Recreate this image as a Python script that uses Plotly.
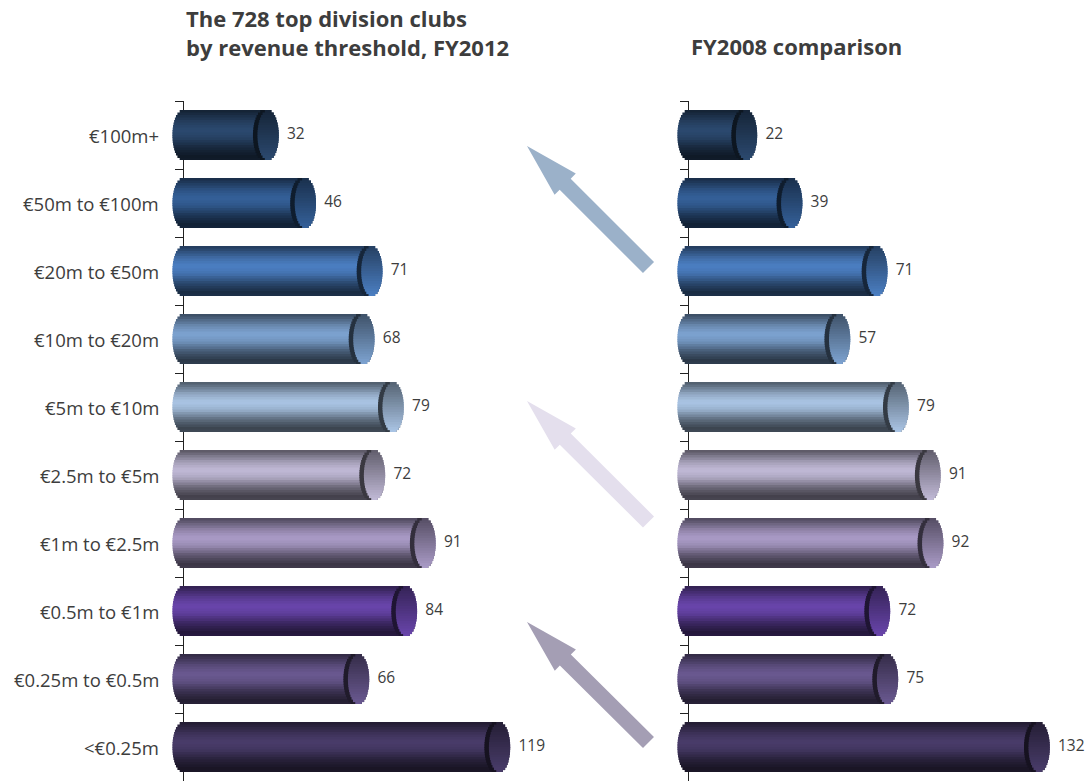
import numpy as np
import plotly.graph_objects as go

# data
categories = ["€100m+", "€50m to €100m", "€20m to €50m", "€10m to €20m", "€5m to €10m",
              "€2.5m to €5m", "€1m to €2.5m", "€0.5m to €1m", "€0.25m to €0.5m", "<€0.25m"]
clubs_fy2012 = [32, 46, 71, 68, 79, 72, 91, 84, 66, 119]
clubs_fy2008 = [22, 39, 71, 57, 79, 91, 92, 72, 75, 132]
bar_colors = ["#2c4a70", "#35619a", "#4c80c4", "#7ea4d2", "#abc6e6",
              "#c2bbd8", "#ab9cc8", "#6a46ad", "#6b5a92", "#4a3d6b"]
arrow_colors = ["#9bb1c9", "#e4dfed", "#a49eb4"]

W, H = 1088, 781
PX = 2.66            # pixels per club
X_MIN, X_MAX = -5, 150
PLOT_TOP = 101       # px from top where the bar area starts
N = 20               # stripes used to fake the cylinder shading
BAR_H = 0.735        # bar thickness in category units
DELTA = 4.0          # half-width of the end ellipse (x units)
RIM = 1.7
TXT = "#3d3d3d"


def shade(hexcol, f):
    c = np.array([int(hexcol[i:i + 2], 16) for i in (1, 3, 5)], dtype=float)
    c = np.clip(c * f, 0, 255).astype(int)
    return "#%02x%02x%02x" % tuple(c)


body_t = [0, 0.08, 0.25, 0.4, 0.55, 0.75, 0.92, 1]
body_f = [0.45, 0.58, 0.86, 1.0, 0.9, 0.55, 0.35, 0.38]

fig = go.Figure()


def add_cylinders(values, xa, ya):
    v = np.array(values, dtype=float)
    sw = BAR_H / N
    for layer in ("body", "rim", "face"):
        for k in range(N):
            t = (k + 0.5) / N
            s = np.sqrt(max(1 - (2 * t - 1) ** 2, 0))
            if layer == "body":
                base = -DELTA * s + 0 * v
                length = v + 2 * DELTA * s
                cols = [shade(c, np.interp(t, body_t, body_f)) for c in bar_colors]
            elif layer == "rim":
                base = v - DELTA * s - RIM
                length = 2 * DELTA * s + 0 * v
                cols = [shade(c, 0.3) for c in bar_colors]
            else:
                base = v - DELTA * s
                length = 2 * DELTA * s + 0 * v
                cols = [shade(c, 0.5 + 0.5 * t) for c in bar_colors]
            fig.add_trace(go.Bar(
                orientation="h", y=categories, x=length, base=base,
                offset=-BAR_H / 2 + k * sw, width=sw * (1.25 if k < N - 1 else 1),
                marker=dict(color=cols, line=dict(width=0)),
                xaxis=xa, yaxis=ya, hoverinfo="skip", showlegend=False))
    fig.add_trace(go.Scatter(
        x=v + DELTA + 3.1, y=categories, mode="text", text=[str(int(a)) for a in values],
        textposition="middle right", cliponaxis=False,
        textfont=dict(family="Open Sans", size=15.5, color=TXT),
        xaxis=xa, yaxis=ya, hoverinfo="skip", showlegend=False))


add_cylinders(clubs_fy2012, "x", "y")
add_cylinders(clubs_fy2008, "x2", "y2")

# category labels, right-aligned left of the first axis
for cat in categories:
    fig.add_annotation(text=cat, xref="paper", yref="y", x=161 / W, y=cat,
                       xanchor="right", yanchor="middle", showarrow=False,
                       font=dict(family="Open Sans", size=18.5, color=TXT))


def xdom(axis_px):
    return [(axis_px + X_MIN * PX) / W, min((axis_px + X_MAX * PX) / W, 1)]


yax = dict(type="category", categoryorder="array", categoryarray=categories,
           range=[9.5, -0.5], domain=[0, (H - PLOT_TOP) / H], anchor="free",
           showline=True, linecolor="#222222", linewidth=1.3, ticks="outside",
           tickson="boundaries", ticklen=8, tickcolor="#222222", tickwidth=1.3,
           showgrid=False, zeroline=False, layer="below traces", showticklabels=False)

fig.update_layout(
    width=W, height=H, margin=dict(l=0, r=0, t=0, b=0),
    plot_bgcolor="white", paper_bgcolor="white",
    barmode="overlay", showlegend=False,
    xaxis=dict(domain=xdom(183), range=[X_MIN, X_MAX], visible=False, anchor="y"),
    xaxis2=dict(domain=xdom(688), range=[X_MIN, X_MAX], visible=False, anchor="y2"),
    yaxis=dict(yax, position=183 / W),
    yaxis2=dict(yax, position=688 / W),
)

# titles
title_font = dict(family="Open Sans", size=22, color=TXT)
fig.add_annotation(text="<b>The 728 top division clubs<br>by revenue threshold, FY2012</b>",
                   xref="paper", yref="paper", x=184 / W, y=1 - 32 / H,
                   xanchor="left", yanchor="middle", align="left",
                   showarrow=False, font=title_font)
fig.add_annotation(text="<b>FY2008 comparison</b>", xref="paper", yref="paper",
                   x=689 / W, y=1 - 46 / H, xanchor="left", yanchor="middle",
                   showarrow=False, font=title_font)

# decorative arrows between the panels (pixel geometry -> paper)
arrows = [((527, 146), (648.5, 267.5)), ((527, 401), (648.5, 522)), ((527, 622), (648.5, 742.5))]
for (tip, tail), col in zip(arrows, arrow_colors):
    tip = np.array(tip, float)
    tail = np.array(tail, float)
    u = (tail - tip) / np.linalg.norm(tail - tip)
    n = np.array([u[1], -u[0]])
    hb = tip + u * 54
    pts = [tip, hb + n * 15, hb + n * 7.8, tail + n * 7.8, tail - n * 7.8, hb - n * 7.8, hb - n * 15]
    path = "M " + " L ".join("%.5f,%.5f" % (p[0] / W, 1 - p[1] / H) for p in pts) + " Z"
    fig.add_shape(type="path", path=path, xref="paper", yref="paper",
                  fillcolor=col, line=dict(width=0), layer="below")

fig.write_html("out.html", config={"displayModeBar": False},
               post_script="document.body.style.margin='0';")
